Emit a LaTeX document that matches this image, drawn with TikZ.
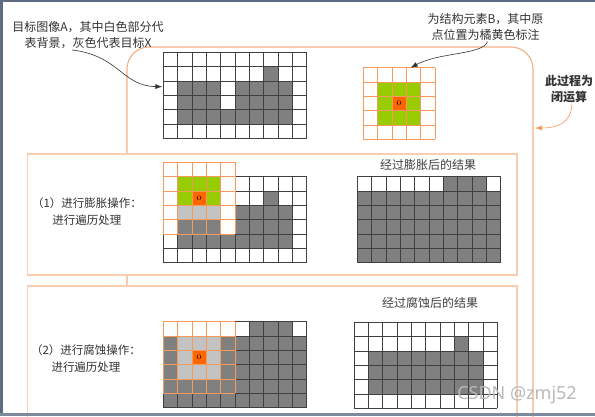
\documentclass[tikz,border=0pt]{standalone}
\usepackage{fontspec}
\usepackage{tikz}
\usetikzlibrary{arrows.meta}
\newfontfamily\cjk{Noto Sans CJK SC}
\newfontfamily\marksans{Noto Sans}
\definecolor{peach}{HTML}{F9CDAE}
\definecolor{boxline}{HTML}{F6B084}
\definecolor{seline}{HTML}{F59A5C}
\definecolor{seorigin}{HTML}{FF6600}
\definecolor{segreen}{HTML}{99CC00}
\definecolor{framec}{HTML}{5D6B84}
\definecolor{xgray}{HTML}{808080}
\definecolor{lgray}{HTML}{C3C3C3}
\tikzstyle{note} = [font=\cjk\fontsize{12}{16}\selectfont, align=center, text=black!80, inner sep=1pt]
\tikzstyle{steptext} = [font=\cjk\fontsize{11.5}{16.5}\selectfont, align=center, text=black!80, inner sep=1pt]
\tikzstyle{restitle} = [font=\cjk\fontsize{12}{16}\selectfont, text=black!75, inner sep=1pt]
\tikzstyle{origin} = [font=\fontsize{10}{10}\selectfont, inner sep=0pt]
\tikzstyle{gridline} = [black!75, line width=0.5pt]
\tikzstyle{segrid} = [seline, line width=0.7pt]
\tikzstyle{stepbox} = [draw=peach, fill=white, line width=1.1pt]
\tikzstyle{bigbox} = [draw=boxline, line width=1.1pt, rounded corners=22pt]
\tikzstyle{pointer} = [-{Latex[length=7pt,width=5pt]}, black!80, line width=0.6pt]
\tikzstyle{watermark} = [font=\marksans\fontsize{18}{18}\selectfont, text=gray!55, inner sep=0pt]

\def\cellsz{14.33}
% one row of filled cells
\newcommand{\pixrow}[4]{\foreach \c in {#3,...,#4} \fill[#1] (\c*\cellsz,#2*\cellsz) rectangle ++(\cellsz,\cellsz);}
% grid lines over a cols x rows block
\newcommand{\pixgrid}[3]{%
  \foreach \i in {0,...,#2} \draw[#1] (\i*\cellsz,0) -- (\i*\cellsz,#3*\cellsz);
  \foreach \j in {0,...,#3} \draw[#1] (0,\j*\cellsz) -- (#2*\cellsz,\j*\cellsz);}
% target X inside image A
\newcommand{\targetX}{%
  \pixrow{xgray}{1}{7}{7}
  \pixrow{xgray}{2}{1}{3} \pixrow{xgray}{2}{5}{8}
  \pixrow{xgray}{3}{1}{3} \pixrow{xgray}{3}{5}{8}
  \pixrow{xgray}{4}{1}{8}}
% X after dilation
\newcommand{\dilatedX}{%
  \pixrow{xgray}{0}{6}{8}
  \foreach \r in {1,...,5} {\pixrow{xgray}{\r}{0}{9}}}

\begin{document}
\begin{tikzpicture}[x=1pt,y=-1pt]
	\useasboundingbox (0,0) rectangle (595,416);
	\clip (0,0) rectangle (595,416);
	\fill[white] (0,0) rectangle (595,416);

	% Frames
	\draw[bigbox] (127,47) rectangle (533,470);
	\draw[stepbox] (27.7,154) rectangle (517,275);
	\draw[stepbox] (27.7,286) rectangle (517,470);

	% Place nodes
	\node [note] at (88,35) (descA) {目标图像A，其中白色部分代\\表背景，灰色代表目标X};
	\node [note] at (485.5,27) (descB) {为结构元素B，其中原\\点位置为橘黄色标注};
	\node [note, font=\cjk\bfseries\fontsize{12}{16}\selectfont] at (569,89) (closing) {此过程为\\闭运算};
	\node [steptext] at (87,211.5) (dilate) {（1）进行膨胀操作：\\进行遍历处理};
	\node [steptext] at (86,358.5) (erode) {（2）进行腐蚀操作：\\进行遍历处理};
	\node [restitle] at (428,165) (dilres) {经过膨胀后的结果};
	\node [restitle] at (430,303) (erores) {经过腐蚀后的结果};

	% Target image A
	\begin{scope}[shift={(163.3,52.3)}]
		\targetX
		\pixgrid{gridline}{10}{6}
		\coordinate (aIn) at (-1,2.4*\cellsz);
	\end{scope}

	% Structure element B
	\begin{scope}[shift={(363.3,67.7)}]
		\foreach \r in {1,2,3} {\pixrow{segreen}{\r}{1}{3}}
		\pixrow{seorigin}{2}{2}{2}
		\node [origin] at (2.5*\cellsz,2.5*\cellsz) (bo) {o};
		\pixgrid{segrid}{5}{5}
		\coordinate (bIn) at (3.3*\cellsz,0);
	\end{scope}

	% Dilation pass
	\begin{scope}[shift={(163.3,176.7)}]
		\targetX
		\pixgrid{gridline}{10}{6}
		\begin{scope}[shift={(0,-\cellsz)}]
			\fill[white] (0,0) rectangle (5*\cellsz,4*\cellsz);
			\pixrow{segreen}{1}{1}{3}
			\pixrow{segreen}{2}{1}{3}
			\pixrow{lgray}{3}{1}{3}
			\pixrow{seorigin}{2}{2}{2}
			\node [origin] at (2.5*\cellsz,2.5*\cellsz) (d0) {o};
			\pixgrid{segrid}{5}{5}
		\end{scope}
	\end{scope}

	% Dilation result
	\begin{scope}[shift={(357.3,176.7)}]
		\dilatedX
		\pixgrid{gridline}{10}{6}
	\end{scope}

	% Erosion pass
	\begin{scope}[shift={(163.3,321.7)}]
		\dilatedX
		\pixgrid{gridline}{10}{6}
		\foreach \r in {1,2,3} {\pixrow{lgray}{\r}{1}{3}}
		\pixrow{seorigin}{2}{2}{2}
		\node [origin] at (2.5*\cellsz,2.5*\cellsz) (e0) {o};
		\pixgrid{segrid}{5}{5}
	\end{scope}

	% Erosion result
	\begin{scope}[shift={(354,322.3)}]
		\pixrow{xgray}{1}{7}{7}
		\foreach \r in {2,3,4} {\pixrow{xgray}{\r}{1}{8}}
		\pixgrid{gridline}{10}{6}
	\end{scope}

	\coordinate (bigR) at (535,128);

	\draw[pointer] ([xshift=-16pt]descA.south) .. controls (120,56) and (122,86) .. (aIn);
	\draw[pointer] ([xshift=2pt]descB.south) .. controls (482,55) and (440,52) .. (bIn);
	\draw[pointer, seline] ([xshift=3pt]closing.south) .. controls (571,124) and (556,128) .. (bigR);

	\node [watermark] at (517,395) (mark) {CSDN @zmj52};

	% Outer frame
	\fill[framec] (0,0) rectangle (595,2);
	\fill[framec] (0,0) rectangle (2.5,416);
	\fill[framec!80] (0,413) rectangle (595,416);
\end{tikzpicture}
\end{document}
